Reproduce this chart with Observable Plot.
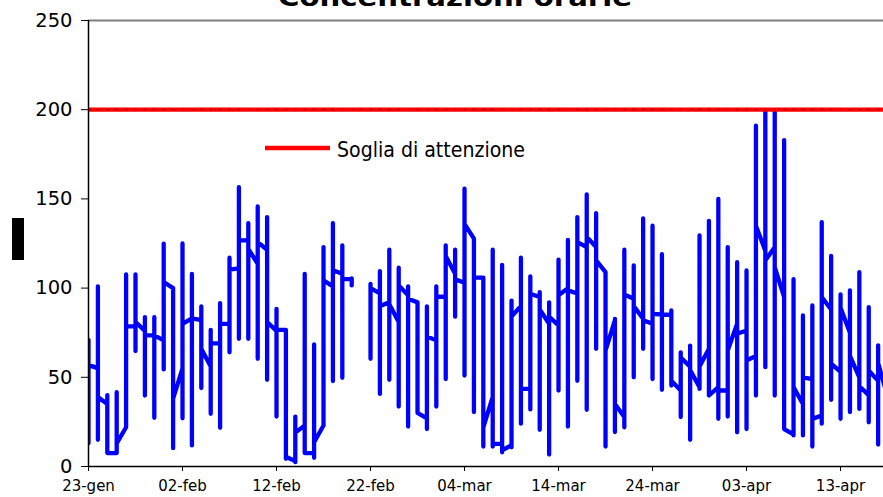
<!DOCTYPE html>
<html>
<head>
<meta charset="utf-8">
<script src="https://cdn.jsdelivr.net/npm/d3@7"></script>
<script src="https://cdn.jsdelivr.net/npm/@observablehq/plot@0.6"></script>
<style>body{margin:0;background:#fff;} svg{display:block;}</style>
</head>
<body>
<script>
const title = "Concentrazioni orarie";
const thresholdLabel = "Soglia di attenzione";
const thresholdValue = 200;
const startDate = "2007-01-23";
const visibleDays = 84.57;

// one entry per day: first hourly value, daily minimum, daily maximum, last hourly value
const dayStart = [71,55,35,7.5,22,78.5,76,73.5,70.7,100,55,83,82,56,69,80,111,126.7,113.6,121.5,76,76.6,3,23,7.5,23,101,108,105,null,102.4,97,92,81,96,92,27,70.7,95,108,103,127.7,105.8,39,12.7,12,90,43.5,95,80,79,100,97,123,123,109,82,27.7,94,82.8,80,85.2,85,42.6,56,44.5,66,44.5,42.6,80,76.2,62,121,123,95,18,35,49,28.6,88,53,75,50,40,48,39];
const dayLow = [13,15,7.5,7.5,22,64.7,39.8,27.3,54.4,10.3,27,11.8,44,29.5,21.7,64,71.6,71.6,60.4,48.6,28,4.3,2.4,7.5,4.9,23,47.9,49.7,101.5,null,60.4,40.7,48.6,33.6,22.4,30,21,33.6,49,84,51,30.5,11.2,11.2,8,10.8,24,32,20.6,6.7,42.6,22.4,48,31.8,66,11.2,19.3,22,50,66,49,43,45.4,27.7,15,43.5,39.8,26.7,28,19.2,21,39.8,55.7,39.8,21,17.4,17.4,11.2,24,37.4,26.7,30.5,32.3,24.8,12.3,null];
const dayHigh = [71,101,40,41.7,107.7,107.7,83.7,83.7,124.9,100,125,108,89.7,76.6,91.6,117,156.6,136.4,145.8,139.8,88.4,76.6,28,108,68.4,123,136.4,124,105.5,null,102.4,109.5,121.5,111.4,101,92,89.7,101,124,121.5,155.7,127.7,105.8,121.5,113,93,117,106.5,97.8,92,116,127,139.8,152.5,142,109,82.8,121.5,112.7,139,135,119,87.5,64,67.8,129.5,137.7,150,123,114.5,109.9,191,199.5,199.5,183,105,84.7,90.3,137,118,96.4,98.7,109,89.3,67.9,null];
const dayEnd = [57,39,7.5,13,78.5,81,73.5,73.5,103.4,38,80,83,66,69,80,110.3,126.7,122,125.8,81,76.6,5.5,19,7.5,13.6,104.3,110,105,101.5,null,100,90,91,101.5,94,30,72.9,95.3,118,105,136,106,22,12.7,9,84,43.5,96.8,88,84,96,98.7,125.8,128.6,115.5,65,35,96.4,90,82,85.6,85.2,48,61,54,56,39.8,42.6,65,74.4,59.4,135,115.5,111.7,21,44.5,50,26.7,95,57.6,89,62,45,53.8,58,null];

const yTicks = [0, 50, 100, 150, 200, 250];
const xTickDates = ["2007-01-23","2007-02-02","2007-02-12","2007-02-22","2007-03-04","2007-03-14","2007-03-24","2007-04-03","2007-04-13"];
const xTickLabels = ["23-gen","02-feb","12-feb","22-feb","04-mar","14-mar","24-mar","03-apr","13-apr"];

const DAY = 864e5;
const t0 = Date.parse(startDate);
const dayDate = i => new Date(t0 + i * DAY);

const hourly = [];
dayStart.forEach((_, i) => {
  const date = dayDate(i);
  [dayStart[i], dayLow[i], dayHigh[i], dayEnd[i]].forEach(v => hourly.push({date, value: v}));
});
const thresholdSeries = dayStart.map((_, i) => ({date: dayDate(i), value: thresholdValue}));

const tickLabelMap = new Map(xTickDates.map((d, i) => [Date.parse(d), xTickLabels[i]]));

const chart = Plot.plot({
  width: 883,
  height: 497,
  marginLeft: 88,
  marginRight: 0,
  marginTop: 20,
  marginBottom: 31,
  style: {fontFamily: "DejaVu Sans", background: "#fff", color: "#000"},
  x: {type: "utc", domain: [new Date(t0), new Date(t0 + visibleDays * DAY)]},
  y: {domain: [0, 250]},
  marks: [
    Plot.ruleY([250], {stroke: "#808080", strokeWidth: 2}),
    Plot.line(hourly, {x: "date", y: "value", stroke: "#0000ff", strokeWidth: 4.3,
      strokeLinejoin: "round", strokeLinecap: "round", clip: true}),
    Plot.line(thresholdSeries, {x: "date", y: "value", stroke: "#ff0000", strokeWidth: 4.3, clip: true}),
    Plot.dot(thresholdSeries, {x: "date", y: "value", r: 1.3, fill: "#c80000", stroke: null, clip: true}),
    Plot.ruleX([new Date(t0)], {stroke: "#000", strokeWidth: 1.5}),
    Plot.ruleY([0], {stroke: "#000", strokeWidth: 1.5}),
    Plot.axisY({ticks: yTicks, tickSize: 7, tickPadding: 9, fontSize: 19.5, label: null, tickFormat: d => String(d)}),
    Plot.axisX({ticks: xTickDates.map(d => new Date(Date.parse(d))), tickSize: 5, tickPadding: 9,
      fontSize: 15, label: null, tickFormat: d => tickLabelMap.get(+d)})
  ]
});
document.body.appendChild(chart);

const svg = d3.select(chart);
svg.append("text")
  .attr("x", 455).attr("y", 5.5)
  .attr("text-anchor", "middle")
  .attr("font-family", "DejaVu Sans").attr("font-weight", "bold").attr("font-size", 24)
  .attr("textLength", 354).attr("lengthAdjust", "spacingAndGlyphs")
  .attr("fill", "#000")
  .text(title);
svg.append("line")
  .attr("x1", 265).attr("x2", 330).attr("y1", 148).attr("y2", 148)
  .attr("stroke", "#ff0000").attr("stroke-width", 4.3);
svg.append("text")
  .attr("x", 337).attr("y", 157)
  .attr("text-anchor", "start")
  .attr("font-family", "DejaVu Sans").attr("font-size", 22)
  .attr("textLength", 188).attr("lengthAdjust", "spacingAndGlyphs")
  .attr("fill", "#000")
  .text(thresholdLabel);
svg.append("rect")
  .attr("x", 12).attr("y", 218).attr("width", 12).attr("height", 42)
  .attr("fill", "#000");
</script>
</body>
</html>
